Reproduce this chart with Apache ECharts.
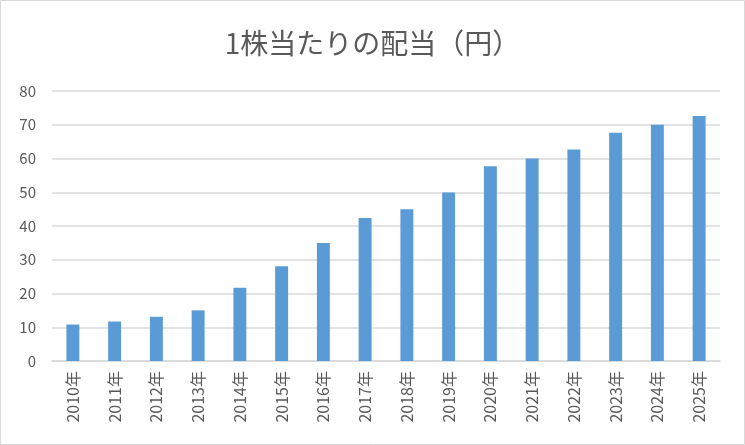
<!DOCTYPE html>
<html><head><meta charset="utf-8">
<script src="https://cdn.jsdelivr.net/npm/echarts@6/dist/echarts.min.js"></script>
<style>html,body{margin:0;padding:0;background:#fff}#c{width:745px;height:445px}</style>
</head><body><div id="c"></div>
<script>
const categories = ['2010年','2011年','2012年','2013年','2014年','2015年','2016年','2017年','2018年','2019年','2020年','2021年','2022年','2023年','2024年','2025年'];
const dividends = [10.8, 11.7, 13.1, 15, 21.7, 28.1, 35, 42.4, 45, 49.9, 57.7, 60, 62.7, 67.6, 70, 72.6];
const yTicks = {min: 0, max: 80, interval: 10};
const titleText = '1株当たりの配当（円）';

const font = '"Noto Sans CJK JP", "Noto Sans", sans-serif';
const chart = echarts.init(document.getElementById('c'), null, {renderer: 'canvas'});
chart.setOption({
  animation: false,
  backgroundColor: '#fff',
  title: {
    text: titleText, left: 'center', top: 24,
    textStyle: {color: '#595959', fontSize: 28, fontWeight: 'normal', fontFamily: font}
  },
  graphic: [{type: 'rect', shape: {x: 0.5, y: 0.5, width: 744, height: 444},
    style: {fill: 'none', stroke: '#d9d9d9', lineWidth: 1}, silent: true}],
  grid: {left: 52, right: 25, top: 91, bottom: 84, containLabel: false},
  xAxis: {
    type: 'category', data: categories,
    axisLine: {show: true, lineStyle: {color: '#d9d9d9', width: 1.5}},
    axisTick: {show: false},
    axisLabel: {rotate: 90, color: '#595959', fontSize: 16, fontFamily: font, margin: 10, interval: 0}
  },
  yAxis: {
    type: 'value', min: yTicks.min, max: yTicks.max, interval: yTicks.interval,
    axisLine: {show: false}, axisTick: {show: false},
    splitLine: {lineStyle: {color: '#d9d9d9', width: 1.5}},
    axisLabel: {color: '#595959', fontSize: 15, fontFamily: font, margin: 16}
  },
  series: [{
    type: 'bar', data: dividends, barWidth: '31%',
    itemStyle: {color: '#5b9bd5'}
  }]
});
</script></body></html>
